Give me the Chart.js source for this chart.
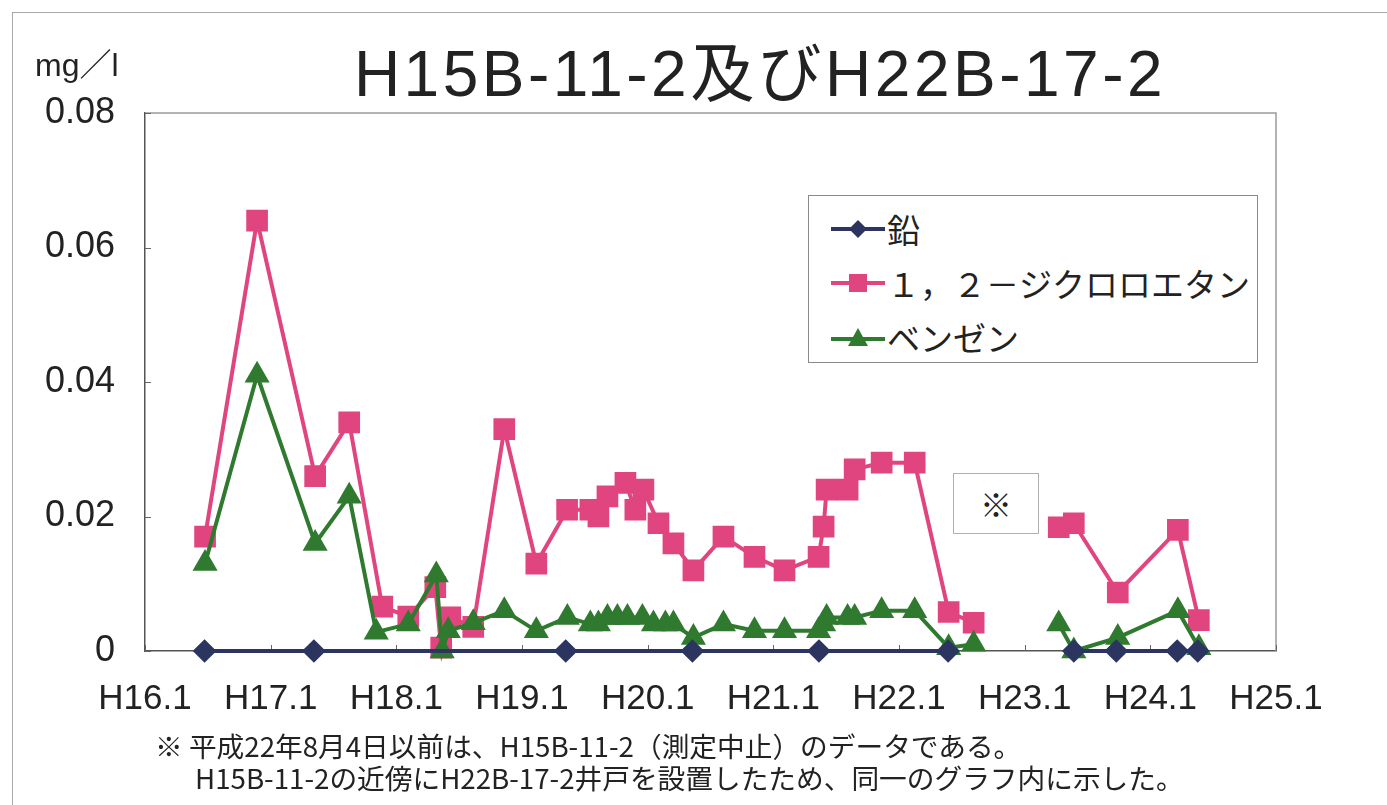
<!DOCTYPE html>
<html lang="ja">
<head>
<meta charset="utf-8">
<script src="https://cdn.jsdelivr.net/npm/chart.js@4.4.1/dist/chart.umd.min.js"></script>
<style>
  html, body { margin: 0; padding: 0; background: #fff; }
  body { width: 1387px; height: 805px; overflow: hidden; position: relative; font-family: "Liberation Sans", "Noto Sans CJK JP", sans-serif; }
  #outer { position: absolute; left: 12px; top: 12px; width: 1400px; height: 820px; border: 1.5px solid #a8a8a8; box-sizing: border-box; }
  #wrap { position: absolute; left: 0; top: 0; width: 1387px; height: 805px; }
  #title { position: absolute; left: 300px; top: 38px; width: 920px; text-align: center; font-size: 64px; letter-spacing: 3.5px; line-height: 72px; color: #222; white-space: nowrap; font-family: "Liberation Sans", "Noto Sans CJK JP", sans-serif; }
  #unit { position: absolute; left: 35px; top: 45px; font-size: 32px; line-height: 40px; color: #222; font-family: "Liberation Sans", "Noto Sans CJK JP", sans-serif; }
  #legend { position: absolute; left: 808px; top: 195px; width: 450px; height: 168px; border: 1.5px solid #8a8a8a; box-sizing: border-box; background: #fff; }
  .row { position: absolute; left: 20px; height: 50px; display: flex; align-items: center; font-family: "Noto Sans CJK JP", sans-serif; font-size: 33px; color: #222; white-space: nowrap; }
  .row svg { display: block; margin-right: 0px; }
  #note { position: absolute; left: 953px; top: 473px; width: 86px; height: 61px; border: 1px solid #b0b0b0; box-sizing: border-box; background: #fff; text-align: center; font-family: "Noto Sans CJK JP", sans-serif; font-size: 32px; line-height: 58px; color: #222; }
  .foot { position: absolute; font-family: "Noto Sans CJK JP", sans-serif; font-size: 27.7px; line-height: 32px; color: #222; white-space: nowrap; }
</style>
</head>
<body>
<div id="outer"></div>
<div id="wrap"><canvas id="c" width="1387" height="805"></canvas></div>
<div id="unit">mg／l</div>
<div id="title">H15B-11-2及びH22B-17-2</div>
<div id="legend">
  <div class="row" style="top:8px;"><svg width="58" height="30"><line x1="2" y1="15" x2="56" y2="15" stroke="#2b3560" stroke-width="4"/><polygon points="29,6 38,15 29,24 20,15" fill="#2b3560"/></svg>鉛</div>
  <div class="row" style="top:62px;"><svg width="58" height="30"><line x1="2" y1="15" x2="56" y2="15" stroke="#e0457f" stroke-width="4"/><rect x="20" y="6" width="18" height="18" fill="#e0457f"/></svg>１，２－ジクロロエタン</div>
  <div class="row" style="top:116px;"><svg width="58" height="30"><line x1="2" y1="17" x2="56" y2="17" stroke="#2f7a2f" stroke-width="4"/><polygon points="29,6 39,24 19,24" fill="#2f7a2f"/></svg>ベンゼン</div>
</div>
<div id="note">※</div>
<div class="foot" style="left:155px; top:729px;">※ 平成22年8月4日以前は、H15B-11-2（測定中止）のデータである。</div>
<div class="foot" style="left:195px; top:761px;">H15B-11-2の近傍にH22B-17-2井戸を設置したため、同一のグラフ内に示した。</div>
<script>
// x values are decimal Heisei years (16.0 = H16.1)
const leadDates   = [16.474, 17.344, 19.348, 20.356, 21.363, 22.391, 23.0, 23.391, 23.729, 24.214, 24.377];
const leadValues  = [0, 0, 0, 0, 0, 0, null, 0, 0, 0, 0];

const dceDates  = [16.478, 16.892, 17.354, 17.625, 17.888, 18.095, 18.310, 18.357, 18.429, 18.612, 18.859, 19.114,
                   19.359, 19.544, 19.608, 19.680, 19.823, 19.902, 19.966, 20.086, 20.205, 20.364, 20.603, 20.850,
                   21.089, 21.360, 21.400, 21.424, 21.591, 21.647, 21.862, 22.125, 22.395, 22.594, 23.0,
                   23.271, 23.391, 23.741, 24.219, 24.386];
const dceValues = [0.017, 0.064, 0.026, 0.034, 0.0066, 0.0051, 0.0095, 0.0005, 0.005, 0.0036, 0.033, 0.013,
                   0.021, 0.021, 0.020, 0.023, 0.025, 0.021, 0.024, 0.019, 0.016, 0.012, 0.017, 0.014,
                   0.012, 0.014, 0.0185, 0.024, 0.024, 0.027, 0.028, 0.028, 0.0058, 0.0042, null,
                   0.0184, 0.019, 0.0087, 0.018, 0.0046];

const benzDates  = [16.478, 16.892, 17.354, 17.625, 17.840, 18.095, 18.318, 18.365, 18.413, 18.612, 18.859, 19.114,
                    19.361, 19.544, 19.608, 19.680, 19.759, 19.839, 19.958, 20.046, 20.141, 20.205, 20.364, 20.603,
                    20.850, 21.089, 21.360, 21.400, 21.424, 21.591, 21.647, 21.862, 22.125, 22.395, 22.594, 23.0,
                    23.271, 23.391, 23.741, 24.219, 24.386];
const benzValues = [0.013, 0.041, 0.016, 0.023, 0.0028, 0.004, 0.0113, 0, 0.003, 0.0042, 0.006, 0.003,
                    0.005, 0.004, 0.004, 0.005, 0.005, 0.005, 0.005, 0.004, 0.004, 0.004, 0.002, 0.004,
                    0.003, 0.003, 0.003, 0.004, 0.005, 0.005, 0.005, 0.006, 0.006, 0.0005, 0.001, null,
                    0.004, 0, 0.002, 0.006, 0.0005];

const xTickYears = [16, 17, 18, 19, 20, 21, 22, 23, 24, 25];
const yTicks = [0, 0.02, 0.04, 0.06, 0.08];

function pts(xs, ys) { return xs.map((x, i) => ({ x: x, y: ys[i] })); }

const frameAndTicks = {
  id: 'frameAndTicks',
  beforeDatasetsDraw(chart) {
    const { ctx, chartArea: a, scales } = chart;
    ctx.save();
    ctx.strokeStyle = '#9a9a9a';
    ctx.lineWidth = 1.5;
    ctx.beginPath();
    ctx.moveTo(a.left, a.top); ctx.lineTo(a.right, a.top); ctx.lineTo(a.right, a.bottom);
    ctx.stroke();
    ctx.strokeStyle = '#666';
    ctx.lineWidth = 1;
    ctx.beginPath();
    xTickYears.forEach(v => {
      const px = Math.round(scales.x.getPixelForValue(v)) + 0.5;
      ctx.moveTo(px, a.bottom); ctx.lineTo(px, a.bottom - 6);
    });
    yTicks.forEach(v => {
      const py = Math.round(scales.y.getPixelForValue(v)) + 0.5;
      ctx.moveTo(a.left, py); ctx.lineTo(a.left + 6, py);
    });
    ctx.stroke();
    ctx.restore();
  }
};

new Chart(document.getElementById('c'), {
  type: 'line',
  data: {
    datasets: [
      { label: '鉛', data: pts(leadDates, leadValues), borderColor: '#2b3560', backgroundColor: '#2b3560',
        borderWidth: 4, pointStyle: 'rectRot', pointRadius: 9, spanGaps: false, order: 0, clip: false },
      { label: '１，２－ジクロロエタン', data: pts(dceDates, dceValues), borderColor: '#e0457f', backgroundColor: '#e0457f',
        borderWidth: 4, pointStyle: 'rect', pointRadius: 12.5, spanGaps: false, order: 2, clip: false },
      { label: 'ベンゼン', data: pts(benzDates, benzValues), borderColor: '#2f7a2f', backgroundColor: '#2f7a2f',
        borderWidth: 4, pointStyle: 'triangle', pointRadius: 10.5, spanGaps: false, order: 1, clip: false }
    ]
  },
  options: {
    responsive: false,
    animation: false,
    events: [],
    layout: { padding: { left: 0, top: 113, right: 111, bottom: 74 } },
    plugins: { legend: { display: false }, title: { display: false }, tooltip: { enabled: false } },
    elements: { line: { tension: 0 }, point: { borderWidth: 0 } },
    scales: {
      x: {
        type: 'linear', min: 16, max: 25,
        afterBuildTicks: s => { s.ticks = xTickYears.map(v => ({ value: v })); },
        afterFit: s => { s.height = 80; },
        ticks: { callback: v => 'H' + v + '.1', color: '#222', padding: 27, maxRotation: 0, autoSkip: false,
                 font: { family: 'Liberation Sans', size: 35 } },
        grid: { display: false, drawTicks: false },
        border: { color: '#555', width: 1.5 }
      },
      y: {
        min: 0, max: 0.08,
        afterBuildTicks: s => { s.ticks = yTicks.map(v => ({ value: v })); },
        afterFit: s => { s.width = 145; },
        ticks: { callback: v => v === 0 ? '0' : v.toFixed(2), color: '#222', padding: 30,
                 font: { family: 'Liberation Sans', size: 36 } },
        grid: { display: false, drawTicks: false },
        border: { color: '#555', width: 1.5 }
      }
    }
  },
  plugins: [frameAndTicks]
});
</script>
</body>
</html>
